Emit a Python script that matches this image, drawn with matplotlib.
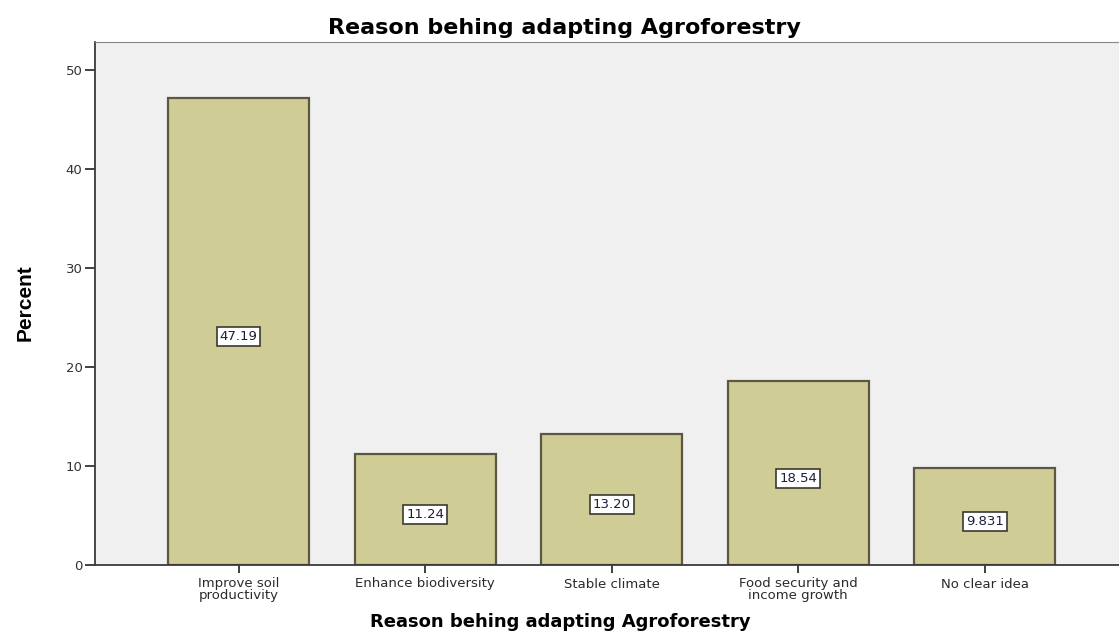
import matplotlib
matplotlib.use("Agg")
import matplotlib.pyplot as plt
from matplotlib import font_manager
import numpy as np

categories = ["Improve soil\nproductivity", "Enhance biodiversity", "Stable climate",
              "Food security and\nincome growth", "No clear idea"]
percent = [47.19, 11.24, 13.20, 18.54, 9.831]
value_labels = ["47.19", "11.24", "13.20", "18.54", "9.831"]
yticks = [0, 10, 20, 30, 40, 50]
title = "Reason behing adapting Agroforestry"

names = {f.name for f in font_manager.fontManager.ttflist}
narrow = "Liberation Sans Narrow" if "Liberation Sans Narrow" in names else "Liberation Sans"

fig = plt.figure(figsize=(11.19, 6.37), dpi=100)
ax = fig.add_axes([95/1119, 1-565/637, 1-95/1119, (565-42)/637])
ax.set_facecolor("#f0f0f0")

x = np.arange(len(categories))
ax.bar(x, percent, width=0.755, color="#d0cc96", edgecolor="#5c5642", linewidth=1.6)
for xi, v, lab in zip(x, percent, value_labels):
    ax.text(xi, v/2 - 0.5, lab, ha="center", va="center", fontsize=9.5,
            family="DejaVu Sans", color="#1a1f3a",
            bbox=dict(boxstyle="square,pad=0.22", fc="white", ec="#3a3a30", lw=1.2))

ax.set_xlim(-0.77, 4.72)
ax.set_ylim(0, 52.8)
ax.set_yticks(yticks)
ax.set_xticks(x)
ax.set_xticklabels(categories, fontsize=9.5, family="DejaVu Sans", color="#2a2a2a", linespacing=0.85)
ax.tick_params(axis="y", labelsize=9.5, length=7, width=1.3, color="#333333", labelcolor="#333333", pad=2)
ax.tick_params(axis="x", length=6, width=1.3, color="#333333", pad=3)
for lab in ax.get_yticklabels():
    lab.set_family("DejaVu Sans")

ax.spines["left"].set_color("#3a3a3a")
ax.spines["left"].set_linewidth(1.3)
ax.spines["bottom"].set_color("#3a3a3a")
ax.spines["bottom"].set_linewidth(1.3)
ax.spines["top"].set_color("#888888")
ax.spines["top"].set_linewidth(0.8)
ax.spines["right"].set_visible(False)

fig.text(564/1119, 1-28/637, title, ha="center", va="center", fontsize=16, fontweight="bold", family="DejaVu Sans")
fig.text(560/1119, 1-622/637, title, ha="center", va="center", fontsize=13, fontweight="bold", family="DejaVu Sans")
fig.text(25/1119, 1-303/637, "Percent", ha="center", va="center", rotation=90, fontsize=15,
         fontweight="bold", family=narrow)

fig.savefig("out.png", dpi=100, facecolor="white")
